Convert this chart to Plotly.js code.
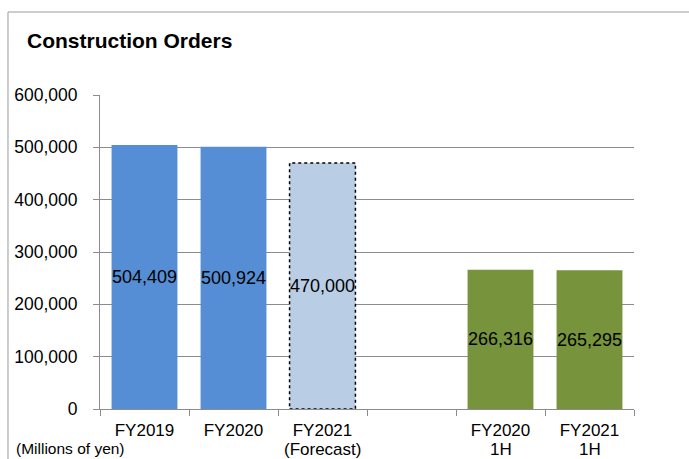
<!DOCTYPE html>
<html>
<head>
<meta charset="utf-8">
<script src="https://cdn.plot.ly/plotly-3.0.1.min.js"></script>
<style>
  html, body { margin: 0; padding: 0; background: #fff; }
  #chart { width: 689px; height: 459px; }
</style>
</head>
<body>
<div id="chart"></div>
<script>
// ---- data ----
const categoryLines1 = ['FY2019', 'FY2020', 'FY2021', '', 'FY2020', 'FY2021'];
const categoryLines2 = ['', '', '(Forecast)', '', '1H', '1H'];
const orders = [504409, 500924, 470000, null, 266316, 265295];
const barColors = ['#558ED5', '#558ED5', '#B9CDE5', '#ffffff', '#77933C', '#77933C'];
const forecastIndex = 2;
const yTickValues = [0, 100000, 200000, 300000, 400000, 500000, 600000];
const yTickLabels = ['0', '100,000', '200,000', '300,000', '400,000', '500,000', '600,000'];

const FONT = 'Liberation Sans, Arial, sans-serif';
const GRID = '#8c8c8c';
const BAR_WIDTH = 0.74;

const positions = categoryLines1.map((_, i) => i);
const labels = orders.map(v => v == null ? '' : v.toLocaleString('en-US'));

const trace = {
  type: 'bar',
  x: positions,
  y: orders,
  width: BAR_WIDTH,
  marker: { color: barColors, line: { width: 0 } },
  text: labels,
  textposition: 'inside',
  insidetextanchor: 'middle',
  textangle: 0,
  constraintext: 'none',
  textfont: { family: FONT, size: 18, color: '#000000' },
  hoverinfo: 'skip'
};

const shapes = [
  // dotted outline of forecast bar
  {
    type: 'rect', xref: 'x', yref: 'y',
    x0: forecastIndex - BAR_WIDTH / 2, x1: forecastIndex + BAR_WIDTH / 2,
    y0: 0, y1: orders[forecastIndex],
    line: { color: '#000000', width: 1.5, dash: 'dot' },
    fillcolor: 'rgba(0,0,0,0)', layer: 'above'
  },
  // chart frame (top and left)
  { type: 'line', xref: 'paper', yref: 'paper', x0: -0.1723, x1: 1.2, y0: 1.2643, y1: 1.2643,
    line: { color: '#9a9a9a', width: 1 } },
  { type: 'line', xref: 'paper', yref: 'paper', x0: -0.1723, x1: -0.1723, y0: 1.2643, y1: -0.2,
    line: { color: '#9a9a9a', width: 1 } }
];

const annotations = [
  {
    text: '(Millions of yen)', xref: 'paper', yref: 'paper',
    x: (14 - 100) / 534, xanchor: 'left',
    y: (409 - 448) / 314, yanchor: 'middle',
    showarrow: false,
    font: { family: FONT, size: 15.5, color: '#000000' }
  }
];
categoryLines2.forEach((t, i) => {
  if (!t) return;
  annotations.push({
    text: t, xref: 'x', yref: 'paper',
    x: positions[i], xanchor: 'center',
    y: (409 - 449) / 314, yanchor: 'middle',
    showarrow: false,
    font: { family: FONT, size: 17, color: '#000000' }
  });
});

const layout = {
  width: 689, height: 459,
  margin: { l: 100, r: 55, t: 95, b: 50 },
  paper_bgcolor: '#ffffff', plot_bgcolor: '#ffffff',
  font: { family: FONT, size: 18, color: '#000000' },
  showlegend: false,
  hovermode: false,
  title: {
    text: '<b>Construction Orders</b>',
    xref: 'container', yref: 'container',
    x: 27 / 689, xanchor: 'left',
    y: 1 - 41 / 459, yanchor: 'middle',
    font: { family: FONT, size: 21, color: '#000000' }
  },
  xaxis: {
    range: [-0.5, positions.length - 0.5],
    tickmode: 'array', tickvals: positions, ticktext: categoryLines1,
    showline: true, linecolor: GRID, linewidth: 1,
    ticks: '', ticklen: 0,
    minor: { tickmode: 'linear', tick0: -0.5, dtick: 1, ticks: 'outside', ticklen: 6, tickcolor: GRID, showgrid: false },
    showgrid: false, zeroline: false,
    tickfont: { family: FONT, size: 17, color: '#000000' },
    ticklabelstandoff: 6,
    fixedrange: true
  },
  yaxis: {
    range: [0, 600000],
    tickvals: yTickValues, ticktext: yTickLabels,
    showline: true, linecolor: GRID, linewidth: 1,
    ticks: 'outside', ticklen: 6, tickcolor: GRID,
    showgrid: true, gridcolor: GRID, gridwidth: 1,
    zeroline: false,
    tickfont: { family: FONT, size: 17.5, color: '#000000' },
    ticklabelstandoff: 12,
    fixedrange: true
  },
  shapes: shapes,
  annotations: annotations
};

Plotly.newPlot('chart', [trace], layout, { displayModeBar: false, staticPlot: true });
</script>
</body>
</html>
